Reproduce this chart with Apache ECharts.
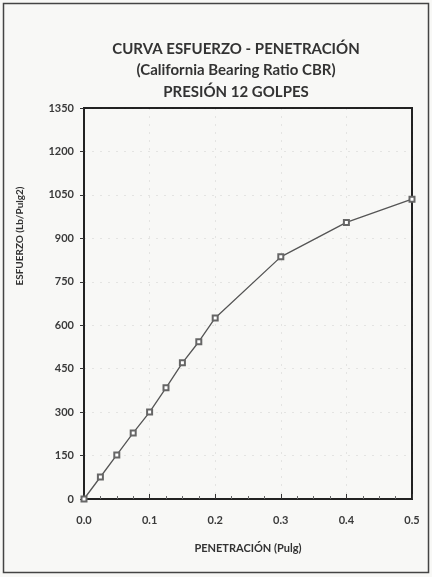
<!DOCTYPE html>
<html>
<head>
<meta charset="utf-8">
<script src="https://cdn.jsdelivr.net/npm/echarts@6/dist/echarts.min.js"></script>
<style>
  html, body { margin: 0; padding: 0; background: #f8f8f6; }
  #chart { width: 432px; height: 577px; }
</style>
</head>
<body>
<div id="chart"></div>
<script>
// CBR stress-penetration curve, 12 blows
const penetracion = [0, 0.025, 0.05, 0.075, 0.1, 0.125, 0.15, 0.175, 0.2, 0.3, 0.4, 0.5];
const esfuerzo = [0, 76, 152, 228, 300, 384, 470, 543, 625, 836, 955, 1035];
const titleLines = ['CURVA ESFUERZO - PENETRACIÓN', '(California Bearing Ratio CBR)', 'PRESIÓN 12 GOLPES'];
const xName = 'PENETRACIÓN (Pulg)';
const yName = 'ESFUERZO (Lb/Pulg2)';

const font = 'Lato, "Open Sans", sans-serif';
const chart = echarts.init(document.getElementById('chart'), null, { renderer: 'canvas' });

chart.setOption({
  backgroundColor: '#f8f8f6',
  animation: false,
  title: {
    text: titleLines.join('\n'),
    left: 231,
    top: 33,
    textAlign: 'center',
    textStyle: { fontFamily: font, fontSize: 15, fontWeight: 'bold', color: '#333', lineHeight: 21.5 }
  },
  graphic: [{
    type: 'rect',
    shape: { x: 3.5, y: 3.5, width: 425, height: 569 },
    style: { fill: 'none', stroke: '#444', lineWidth: 1.5 },
    silent: true
  }, {
    type: 'text',
    x: 20, y: 236,
    rotation: Math.PI / 2,
    style: {
      text: yName,
      fontFamily: font, fontSize: 10, fontWeight: 'bold', fill: '#333',
      align: 'center', verticalAlign: 'middle'
    },
    silent: true
  }],
  grid: { left: 84, right: 20, top: 108, bottom: 78, show: true, borderColor: '#222', borderWidth: 2, backgroundColor: 'transparent' },
  xAxis: {
    type: 'value',
    min: 0, max: 0.5, interval: 0.1,
    name: xName,
    nameLocation: 'middle',
    nameGap: 44,
    nameTextStyle: { fontFamily: font, fontSize: 11, fontWeight: 'bold', color: '#333' },
    axisLine: { show: true, lineStyle: { color: '#222', width: 2 } },
    axisTick: { show: true, inside: true, length: 5, lineStyle: { color: '#333' } },
    minorTick: { show: true, splitNumber: 4, length: 3, lineStyle: { color: '#666' } },
    axisLabel: { fontFamily: font, fontSize: 11, fontWeight: 'bold', color: '#3a3a3a', margin: 16, formatter: v => v.toFixed(1) },
    splitLine: { show: true, lineStyle: { color: 'rgba(0,0,0,0.08)', type: [2, 6] } }
  },
  yAxis: {
    type: 'value',
    min: 0, max: 1350, interval: 150,
    axisLine: { show: true, lineStyle: { color: '#222', width: 2 } },
    axisTick: { show: true, length: 4, lineStyle: { color: '#333' } },
    axisLabel: { fontFamily: font, fontSize: 11, fontWeight: 'bold', color: '#3a3a3a', margin: 10, formatter: v => String(v) },
    splitLine: { show: true, lineStyle: { color: 'rgba(0,0,0,0.08)', type: [2, 6] } }
  },
  series: [{
    type: 'line',
    data: penetracion.map((p, i) => [p, esfuerzo[i]]),
    symbol: 'emptyRect',
    symbolSize: 5,
    lineStyle: { color: '#555', width: 1.3 },
    itemStyle: { color: '#666', borderColor: '#555', borderWidth: 1 }
  }]
});
</script>
</body>
</html>
